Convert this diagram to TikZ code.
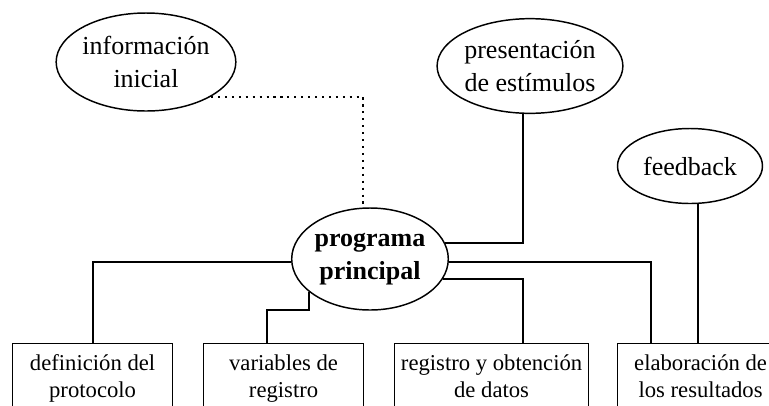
\documentclass[tikz,border=0pt]{standalone}
\usepackage{fontspec}
\setmainfont{Liberation Serif}
\usetikzlibrary{shapes.geometric,calc}
\begin{document}
\begin{tikzpicture}[x=0.75pt,y=-0.75pt,
  oval/.style={draw, ellipse, line width=1.1pt, inner sep=0pt, align=center,
    font=\fontsize{19.5}{24.5}\selectfont},
  box/.style={draw, rectangle, line width=0.9pt, anchor=north west, inner sep=0pt,
    minimum height=100pt},
  boxtext/.style={anchor=north, inner sep=0pt, align=center,
    font=\fontsize{17}{20.25}\selectfont},
  conn/.style={line width=1.6pt},
  dotconn/.style={line width=1.6pt, dash pattern=on 1.6pt off 3.6pt}]
\useasboundingbox (0,0) rectangle (769,405);
\clip (0,0) rectangle (769,405);
\fill[white] (0,0) rectangle (769,405);

% ellipses
\node[oval, minimum width=132pt, minimum height=73.5pt] (info) at (146,62) {información\\inicial};
\node[oval, minimum width=132pt, minimum height=71pt] (pres) at (530,66) {presentación\\de estímulos};
\node[oval, minimum width=108.75pt, minimum height=56.25pt] (fb) at (690,166) {feedback};
\node[oval, minimum width=108.75pt, minimum height=76.5pt, font=\fontsize{19.5}{24.5}\selectfont\bfseries] (prog) at (370,259) {programa\\principal};

% boxes
\node[box, minimum width=120pt] (b1) at (12,343) {};
\node[box, minimum width=120pt] (b2) at (203,343) {};
\node[box, minimum width=145.5pt] (b3) at (394,343) {};
\node[box, minimum width=124.5pt] (b4) at (617,343) {};
\node[boxtext] (t1) at ($(b1.north)+(0,11)$) {definición del\\protocolo};
\node[boxtext] (t2) at ($(b2.north)+(0,11)$) {variables de\\registro};
\node[boxtext] (t3) at ($(b3.north)+(0,11)$) {registro y obtención\\de datos};
\node[boxtext] (t4) at ($(b4.north)+(0,11)$) {elaboración de\\los resultados};

% connectors
\draw[dotconn] (info.-28) -| (prog.98);
\draw[conn] (prog.12) -| (pres.-98);
\draw[conn] (fb.-78) -- (fb.-78 |- b4.north);
\draw[conn] (prog.-2) -| ($(b4.north)+(-50,0)$);
\draw[conn] (prog.-15) -| ($(b3.north)+(31,0)$);
\draw[conn] (prog.182) -| (b1.north);
\draw[conn] (prog.208) |- ($(b2.north)+(-17,-33)$) -- ($(b2.north)+(-17,0)$);
\end{tikzpicture}
\end{document}
